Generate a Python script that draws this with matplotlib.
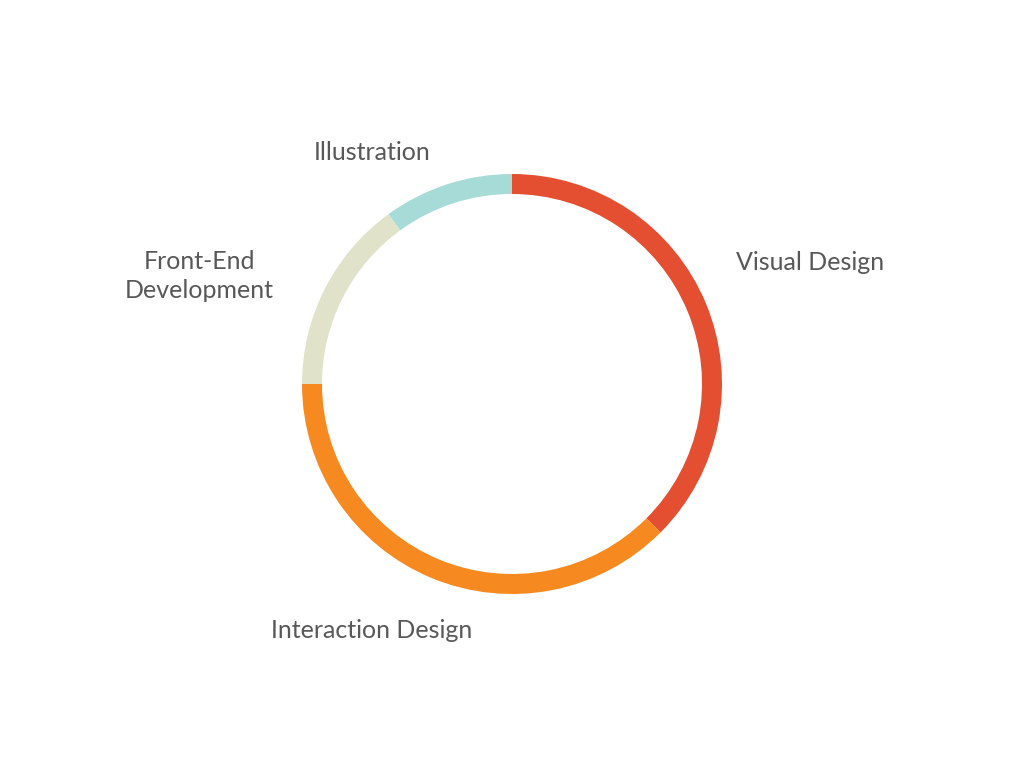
import matplotlib
matplotlib.use("Agg")
import matplotlib.pyplot as plt

categories = ["Visual Design", "Interaction Design", "Front-End\nDevelopment", "Illustration"]
values = [37.5, 37.5, 15, 10]
colors = ["#E44E31", "#F6891F", "#E0E3CA", "#A6DBD8"]
# label centres in pixels relative to the ring centre (style)
label_pos = [(298, 122), (-140, -246), (-313, 108), (-140, 232)]

fig = plt.figure(figsize=(10.24, 7.68), dpi=100)
ax = fig.add_axes([0, 0, 1, 1])

ax.pie(values, colors=colors, radius=210, startangle=90, counterclock=False,
       wedgeprops=dict(width=20, linewidth=0), center=(0, 0), frame=True)
ax.set_xlim(-512, 512)
ax.set_ylim(-384, 384)
ax.set_aspect("equal")
ax.axis("off")

for lab, (x, y) in zip(categories, label_pos):
    ax.text(x, y, lab, ha="center", va="center", fontsize=18, color="#585858",
            family="Lato", linespacing=1.3, multialignment="center")

fig.savefig("out.png", dpi=100)
